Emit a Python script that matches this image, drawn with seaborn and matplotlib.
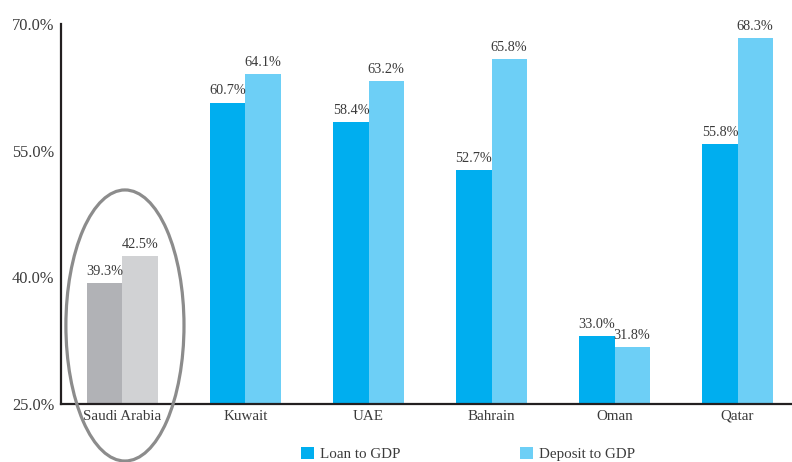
import matplotlib
matplotlib.use("Agg")
import matplotlib.pyplot as plt
from matplotlib.patches import Ellipse, Patch
import seaborn as sns
import pandas as pd
import numpy as np

countries = ["Saudi Arabia", "Kuwait", "UAE", "Bahrain", "Oman", "Qatar"]
loan_to_gdp = [39.3, 60.7, 58.4, 52.7, 33.0, 55.8]
deposit_to_gdp = [42.5, 64.1, 63.2, 65.8, 31.8, 68.3]
series_names = ["Loan to GDP", "Deposit to GDP"]
y_ticks = [25.0, 40.0, 55.0, 70.0]

blue = ["#00AEEF", "#6DCFF6"]
grey = ["#B1B2B6", "#D1D2D4"]

df = pd.DataFrame({
    "country": countries * 2,
    "value": loan_to_gdp + deposit_to_gdp,
    "series": [series_names[0]] * len(countries) + [series_names[1]] * len(countries),
})

sns.set_style("white")
plt.rcParams["font.family"] = ["Liberation Serif", "DejaVu Serif"]
text_color = "#3a3a3a"
axis_color = "#231F20"

fig = plt.figure(figsize=(7.92, 4.62), dpi=100)
ax = fig.add_axes([0.077, 0.1255, 0.935, 0.8225])

sns.barplot(data=df, x="country", y="value", hue="series", palette=blue,
            order=countries, hue_order=series_names, width=0.57,
            saturation=1, dodge=True, legend=False, linewidth=0, ax=ax)

# grey out the highlighted country and label every bar
for i, container in enumerate(ax.containers):
    for j, bar in enumerate(container):
        bar.set_linewidth(0)
        if j == 0:
            bar.set_facecolor(grey[i])
        val = bar.get_height()
        ax.text(bar.get_x() + bar.get_width() / 2, val + 0.6, f"{val:.1f}%",
                ha="center", va="bottom", fontsize=10.3, color=text_color)

ax.set_ylim(25, 70)
ax.set_xlim(-0.5, 5.52)
ax.set_yticks(y_ticks)
ax.set_yticklabels([f"{t:.1f}%" for t in y_ticks], fontsize=11.8, color=text_color)

# category boundaries carry the tick marks, centres carry the labels
ax.set_xticks(np.arange(0.5, len(countries) - 0.5, 1.0))
ax.set_xticklabels([])
ax.set_xticks(np.arange(len(countries)), minor=True)
ax.set_xticklabels(countries, minor=True, fontsize=10.8, color=text_color)
ax.tick_params(axis="x", which="major", direction="inout", length=7, width=1.5,
               color=axis_color)
ax.tick_params(axis="x", which="minor", length=0, pad=4)
ax.tick_params(axis="y", direction="out", length=5, width=1.5, color=axis_color, pad=0)
ax.set_xlabel("")
ax.set_ylabel("")

for side in ["top", "right"]:
    ax.spines[side].set_visible(False)
for side in ["left", "bottom"]:
    ax.spines[side].set_color(axis_color)
    ax.spines[side].set_linewidth(1.6)

ax.add_patch(Ellipse((0.02, 34.3), 0.96, 32.1, fill=False, edgecolor="#8C8C8C",
                     linewidth=2.3, clip_on=False, zorder=5))

handles = [Patch(facecolor=c, edgecolor="none") for c in blue]
fig.legend(handles, series_names, loc="center", bbox_to_anchor=(0.591, 0.0175),
           ncol=2, frameon=False, fontsize=10.8, handlelength=0.85, handleheight=0.85,
           handletextpad=0.4, columnspacing=8.0, labelcolor=text_color)

fig.savefig("out.png", dpi=100)
